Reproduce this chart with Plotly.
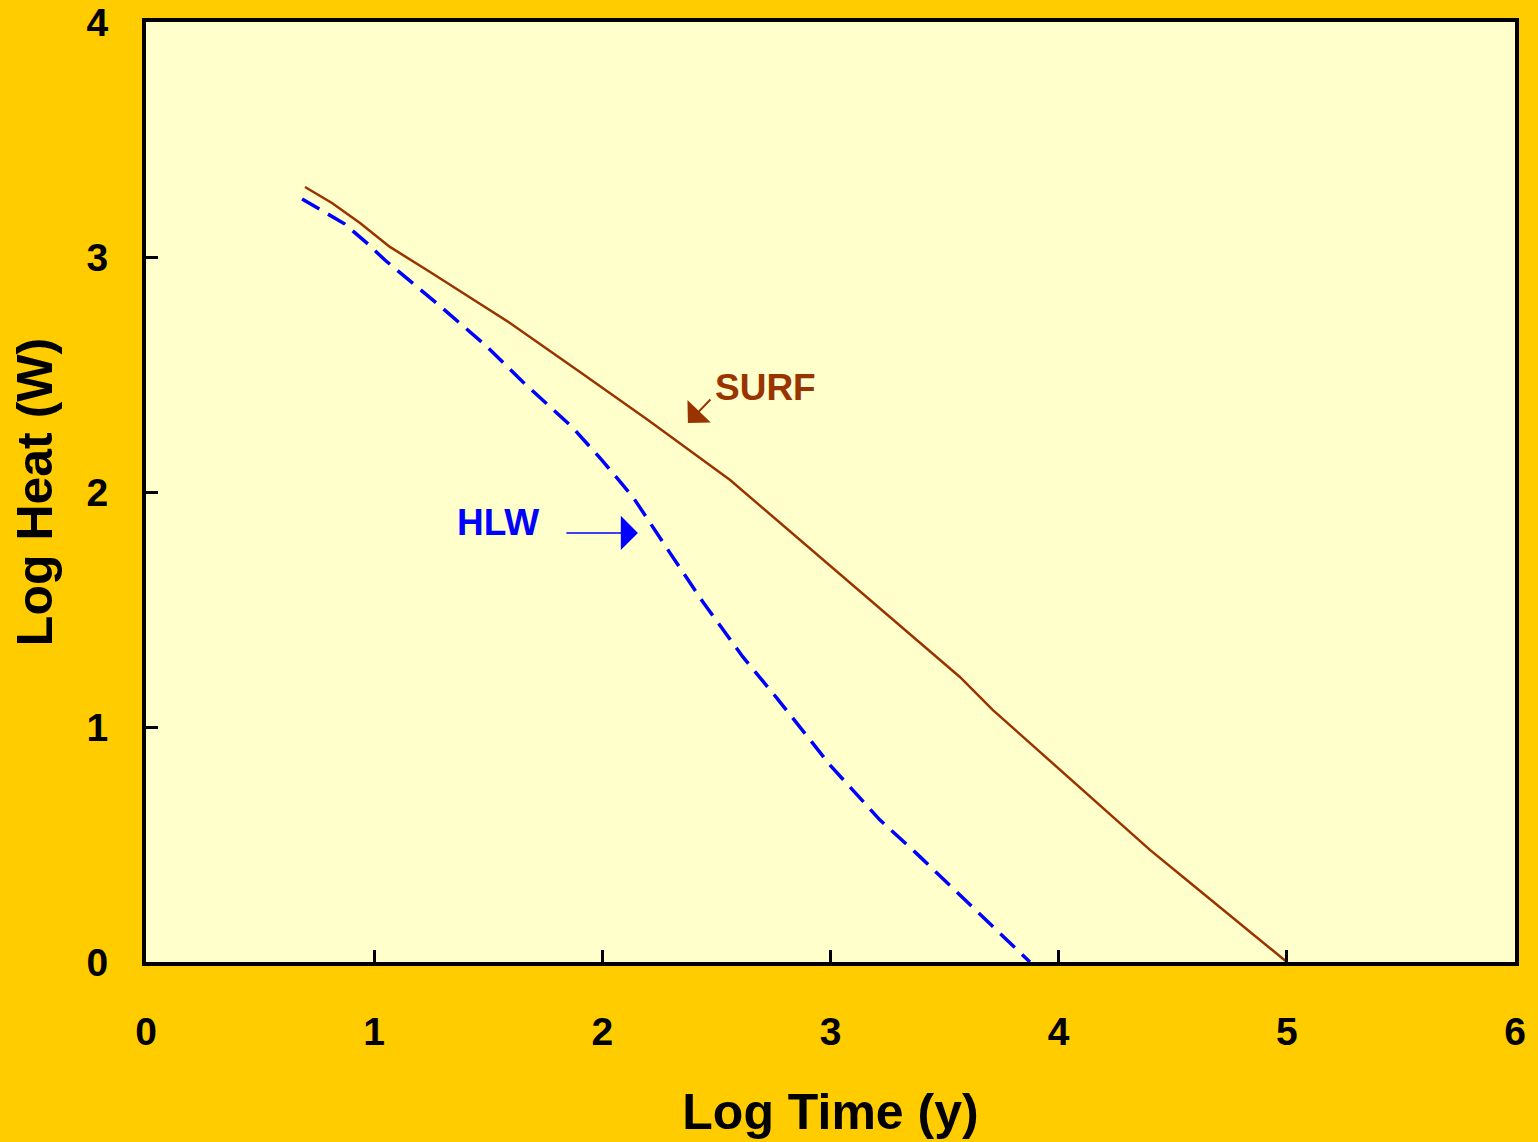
import plotly.graph_objects as go

# Data (log10 time in years, log10 heat in W)
surf_x = [0.697, 0.815, 0.938, 1.069, 1.245, 1.420, 1.595, 1.902, 2.200, 2.560, 3.000, 3.567, 3.712, 4.000, 4.400, 4.545, 5.000]
surf_y = [3.298, 3.230, 3.145, 3.043, 2.936, 2.826, 2.719, 2.511, 2.306, 2.051, 1.685, 1.213, 1.072, 0.823, 0.477, 0.362, 0.000]

hlw_x = [0.684, 0.872, 0.973, 1.047, 1.267, 1.486, 1.652, 1.806, 1.867, 1.998, 2.134, 2.297, 2.441, 2.616, 2.765, 2.998, 3.217, 3.379, 3.874]
hlw_y = [3.247, 3.140, 3.055, 2.987, 2.809, 2.626, 2.468, 2.328, 2.277, 2.136, 1.979, 1.740, 1.532, 1.298, 1.123, 0.838, 0.604, 0.460, 0.000]

x_ticks = [0, 1, 2, 3, 4, 5, 6]
y_ticks = [0, 1, 2, 3, 4]

FONT = "Arial, Liberation Sans, sans-serif"
BROWN = "#993300"
BLUE = "#0000FF"

fig = go.Figure()
fig.add_trace(go.Scatter(x=surf_x, y=surf_y, mode="lines", name="SURF",
                         line=dict(color=BROWN, width=2.5)))
fig.add_trace(go.Scatter(x=hlw_x, y=hlw_y, mode="lines", name="HLW",
                         line=dict(color=BLUE, width=3.5, dash="20px,10px")))

axis_common = dict(
    showline=True, linecolor="black", linewidth=4, mirror=True,
    ticks="inside", ticklen=12, tickwidth=3, tickcolor="black",
    showgrid=False, zeroline=False, automargin=False,
    tickfont=dict(family=FONT, size=39, color="black", weight="bold"),
)

fig.update_xaxes(range=[0, 6], tickvals=x_ticks, ticklabelstandoff=32,
                 title=dict(text="<b>Log Time (y)</b>", font=dict(family=FONT, size=50, color="black"), standoff=43),
                 **axis_common)
fig.update_yaxes(range=[0, 4], tickvals=y_ticks, ticklabelstandoff=26,
                 title=dict(text="<b>Log Heat (W)</b>", font=dict(family=FONT, size=50, color="black"), standoff=19),
                 **axis_common)

annots = [
    dict(x=2.375, y=2.294, ax=2.48, ay=2.40, axref="x", ayref="y", xref="x", yref="y",
         text="", showarrow=True, arrowhead=1, arrowsize=2.7, arrowwidth=2, arrowcolor=BROWN),
    dict(x=2.156, y=1.826, ax=1.836, ay=1.826, axref="x", ayref="y", xref="x", yref="y",
         text="", showarrow=True, arrowhead=1, arrowsize=3.8, arrowwidth=1.5, arrowcolor=BLUE),
    dict(x=2.713, y=2.443, xref="x", yref="y", text="<b>SURF</b>", showarrow=False,
         font=dict(family=FONT, size=37, color=BROWN)),
    dict(x=1.543, y=1.872, xref="x", yref="y", text="<b>HLW</b>", showarrow=False,
         font=dict(family=FONT, size=37, color=BLUE)),
]
fig.update_layout(
    annotations=annots,
    width=1538, height=1142,
    paper_bgcolor="#FFCC00", plot_bgcolor="#FFFFCC",
    margin=dict(l=146, r=23, t=22, b=180),
    showlegend=False,
)

fig.write_html("out.html")
